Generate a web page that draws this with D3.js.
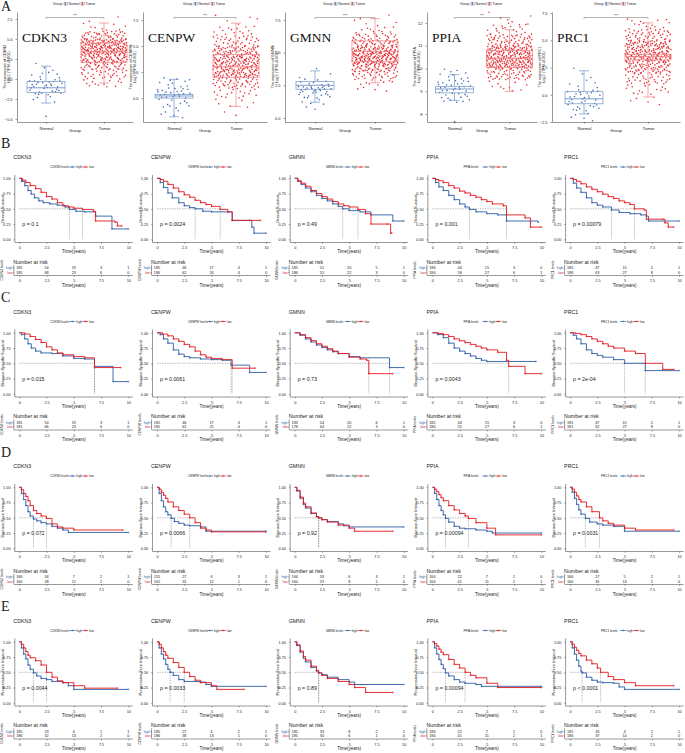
<!DOCTYPE html>
<html>
<head>
<meta charset="utf-8">
<script src="https://cdn.jsdelivr.net/npm/d3@7"></script>
<style>
body { margin: 0; background: #fff; }
svg { display: block; }
text { font-family: "Liberation Sans", Arial, sans-serif; fill: #222; }
</style>
</head>
<body>
<script>
// ---------- data ----------
const genes = ["CDKN3", "CENPW", "GMNN", "PPIA", "PRC1"];
const groups = ["Normal", "Tumor"];

// panel A: expression boxplots
const boxDomains = [[-5.375, 8.375], [-2.3, 8.27], [-0.31, 8.11], [7.65, 12.48], [-2.5, 7.6]];
const boxTicks = [[-5, -2.5, 0, 2.5, 5, 7.5], [0, 2.5, 5, 7.5], [0, 2.5, 5, 7.5], [8, 9, 10, 11, 12], [-2.5, 0, 2.5, 5, 7.5]];
const boxTickFormat = [".1f", ".1f", ".1f", "d", ".1f"];
// [whisker low, q1, median, q3, whisker high]
const normalStats = [[-3.0, -1.7, -1.1, -0.3, 1.6], [-1.8, 0.0, 0.2, 0.35, 1.8], [1.2, 2.2, 2.5, 2.8, 3.6], [8.6, 8.93, 9.1, 9.2, 9.73], [-1.76, -0.83, -0.37, 0.28, 2.2]];
const tumorStats = [[-0.5, 2.1, 3.4, 4.5, 7.0], [-0.8, 2.0, 3.0, 4.2, 7.2], [2.7, 4.3, 5.1, 5.9, 7.6], [9.0, 10.05, 10.45, 10.8, 11.7], [-0.2, 3.2, 3.5, 3.7, 6.6]];
// histogram of the jittered points: first bin start, bin width, counts
const normalBinStart = [-5, -2, 0.5, 7.5, -2.5];
const normalBinWidth = [1, 1, 0.5, 0.5, 1];
const normalCounts = [[1, 0, 4, 14, 18, 6, 3], [5, 10, 22, 10], [2, 4, 12, 20, 8, 2, 1], [1, 0, 14, 22, 9], [5, 15, 18, 5, 3]];
const tumorBinStart = [-1, -2, 2, 9, -1];
const tumorBinWidth = [1, 1, 0.5, 0.5, 1];
const tumorCounts = [[12, 25, 40, 70, 95, 80, 40, 8, 2], [2, 6, 18, 45, 85, 90, 70, 35, 15, 5], [4, 10, 25, 45, 70, 80, 60, 40, 22, 10, 4, 2], [10, 50, 120, 110, 55, 20, 5], [5, 15, 35, 70, 100, 85, 45, 15]];

// panels B-E: Kaplan-Meier curves, [time, survival] after time 0
const osHigh = [
  [[0.2,0.95],[0.5,0.88],[0.8,0.8],[1.1,0.74],[1.4,0.68],[1.8,0.63],[2.2,0.6],[2.8,0.58],[3.5,0.56],[4.2,0.53],[4.6,0.49],[5.2,0.46],[6.0,0.45],[7.0,0.38],[8.5,0.17],[10,0.17]],
  [[0.3,0.93],[0.6,0.85],[1.0,0.76],[1.4,0.68],[2.0,0.6],[2.5,0.55],[3.0,0.52],[3.5,0.5],[4.2,0.46],[5.0,0.45],[6.5,0.45],[6.9,0.31],[8.5,0.31],[8.7,0.2],[8.9,0.1],[10,0.1]],
  [[0.3,0.95],[0.6,0.9],[1.0,0.84],[1.5,0.78],[2.0,0.72],[2.5,0.67],[3.0,0.63],[3.5,0.58],[4.0,0.54],[4.4,0.5],[5.0,0.47],[6.0,0.45],[7.0,0.4],[9.0,0.3],[10,0.3]],
  [[0.3,0.93],[0.6,0.86],[1.0,0.8],[1.5,0.72],[2.0,0.65],[2.5,0.58],[3.0,0.53],[3.4,0.49],[4.0,0.45],[5.0,0.42],[6.0,0.4],[6.8,0.3],[9.7,0.28]],
  [[0.3,0.92],[0.6,0.84],[1.0,0.77],[1.5,0.68],[2.0,0.6],[2.5,0.56],[3.0,0.53],[3.8,0.48],[4.5,0.44],[5.5,0.42],[6.5,0.4],[7.0,0.38],[7.2,0.3],[10,0.3]]
];
const osLow = [
  [[0.3,0.97],[0.6,0.93],[1.0,0.88],[1.5,0.83],[2.0,0.77],[2.5,0.7],[3.0,0.66],[3.5,0.6],[4.0,0.55],[4.5,0.53],[5.0,0.51],[5.8,0.49],[6.8,0.46],[7.0,0.3],[8.8,0.28],[9.0,0.22],[9.4,0.22]],
  [[0.3,0.98],[0.6,0.95],[1.0,0.9],[1.5,0.84],[2.0,0.78],[2.5,0.73],[3.0,0.69],[3.5,0.64],[4.0,0.6],[4.5,0.57],[5.0,0.54],[5.8,0.49],[6.5,0.45],[6.9,0.31],[9.5,0.31]],
  [[0.3,0.96],[0.6,0.92],[1.0,0.87],[1.5,0.8],[2.0,0.75],[2.5,0.7],[3.0,0.66],[3.5,0.62],[4.0,0.58],[4.5,0.55],[5.0,0.53],[5.8,0.49],[6.5,0.42],[7.0,0.25],[8.5,0.25],[8.8,0.1],[8.9,0.1]],
  [[0.3,0.98],[0.6,0.96],[1.0,0.93],[1.5,0.88],[2.0,0.84],[2.5,0.79],[3.0,0.76],[3.5,0.72],[4.0,0.69],[4.5,0.65],[5.0,0.62],[5.5,0.58],[6.5,0.55],[6.8,0.4],[8.5,0.35],[9.0,0.2],[10,0.2]],
  [[0.3,0.98],[0.6,0.95],[1.0,0.91],[1.5,0.86],[2.0,0.82],[2.5,0.78],[3.0,0.74],[3.5,0.7],[4.0,0.67],[4.5,0.63],[5.0,0.6],[5.5,0.57],[5.9,0.5],[6.8,0.48],[7.0,0.33],[8.5,0.33],[8.7,0.27],[9.0,0.2],[9.5,0.2]]
];
const dssHigh = [
  [[0.2,0.97],[0.5,0.9],[0.8,0.82],[1.1,0.75],[1.5,0.7],[2.0,0.67],[3.0,0.66],[4.0,0.62],[5.0,0.58],[6.0,0.57],[6.9,0.45],[8.6,0.2],[10,0.2]],
  [[0.3,0.97],[0.6,0.9],[1.0,0.83],[1.5,0.72],[2.0,0.65],[2.5,0.61],[3.0,0.59],[4.0,0.57],[5.0,0.56],[6.0,0.55],[6.8,0.47],[8.5,0.35],[10,0.35]],
  [[0.5,0.96],[1.0,0.9],[1.5,0.85],[2.0,0.8],[2.5,0.76],[3.0,0.72],[3.5,0.69],[4.0,0.66],[5.0,0.61],[6.0,0.59],[8.7,0.43],[10,0.43]],
  [[0.5,0.97],[1.0,0.92],[1.5,0.83],[2.0,0.75],[2.5,0.7],[3.0,0.66],[3.5,0.62],[4.0,0.58],[4.5,0.55],[5.0,0.53],[9.5,0.53]],
  [[0.3,0.96],[0.6,0.9],[1.0,0.82],[1.5,0.72],[2.0,0.66],[2.5,0.63],[3.0,0.6],[4.0,0.56],[5.0,0.5],[6.9,0.38],[10,0.38]]
];
const dssLow = [
  [[0.5,0.98],[1.0,0.94],[1.5,0.89],[2.0,0.84],[2.5,0.77],[3.0,0.72],[3.5,0.67],[4.0,0.64],[5.0,0.61],[6.0,0.59],[6.9,0.43],[9.3,0.43]],
  [[0.5,0.98],[1.0,0.95],[1.5,0.9],[2.0,0.86],[2.5,0.81],[3.0,0.77],[3.5,0.7],[4.0,0.64],[4.5,0.6],[5.0,0.58],[6.0,0.56],[6.9,0.42],[9.0,0.42]],
  [[0.5,0.97],[1.0,0.92],[1.5,0.87],[2.0,0.82],[2.5,0.78],[3.0,0.74],[3.5,0.7],[4.0,0.66],[5.0,0.6],[6.0,0.57],[6.6,0.55],[6.8,0.33],[9.0,0.33]],
  [[0.5,0.99],[1.0,0.97],[1.5,0.94],[2.0,0.9],[2.5,0.87],[3.0,0.84],[3.5,0.81],[4.0,0.78],[4.5,0.75],[5.0,0.72],[6.0,0.68],[6.8,0.55],[7.0,0.45],[8.5,0.33],[10,0.33]],
  [[0.5,0.99],[1.0,0.97],[1.5,0.94],[2.0,0.9],[2.5,0.86],[3.0,0.82],[3.5,0.78],[4.0,0.75],[5.0,0.7],[6.0,0.66],[6.9,0.5],[8.5,0.4],[9.5,0.4]]
];
const dfiHigh = [
  [[0.2,0.9],[0.4,0.8],[0.6,0.7],[0.8,0.6],[1.0,0.53],[1.3,0.48],[1.6,0.45],[2.0,0.42],[2.5,0.4],[3.0,0.36],[3.5,0.33],[4.0,0.3],[4.5,0.26],[10,0.26]],
  [[0.2,0.9],[0.4,0.78],[0.6,0.68],[0.8,0.6],[1.0,0.55],[1.3,0.49],[1.6,0.44],[2.0,0.41],[2.5,0.38],[3.0,0.37],[4.0,0.35],[4.5,0.28],[10,0.28]],
  [[0.2,0.94],[0.5,0.82],[0.8,0.72],[1.0,0.66],[1.5,0.57],[2.0,0.52],[2.2,0.5],[2.5,0.47],[3.0,0.44],[4.0,0.4],[4.5,0.37],[5.0,0.35],[10,0.35]],
  [[0.2,0.9],[0.4,0.8],[0.6,0.7],[0.8,0.62],[1.0,0.55],[1.2,0.49],[1.5,0.43],[2.0,0.36],[2.5,0.33],[3.0,0.32],[4.0,0.3],[5.0,0.28],[5.5,0.25],[10,0.25]],
  [[0.2,0.92],[0.4,0.82],[0.6,0.72],[0.8,0.63],[1.0,0.56],[1.4,0.49],[1.8,0.43],[2.5,0.4],[3.0,0.38],[4.0,0.36],[5.0,0.28],[10,0.28]]
];
const dfiLow = [
  [[0.2,0.96],[0.4,0.9],[0.6,0.85],[0.8,0.78],[1.0,0.7],[1.3,0.62],[1.6,0.57],[2.0,0.53],[2.5,0.49],[3.0,0.4],[3.5,0.35],[4.0,0.33],[5.0,0.3],[9.5,0.3]],
  [[0.2,0.97],[0.4,0.92],[0.6,0.87],[0.8,0.82],[1.0,0.76],[1.5,0.68],[2.0,0.62],[2.5,0.56],[3.0,0.5],[3.5,0.42],[4.0,0.33],[4.5,0.3],[5.0,0.27],[10,0.27]],
  [[0.2,0.95],[0.5,0.84],[0.8,0.74],[1.0,0.68],[1.5,0.58],[2.0,0.52],[2.2,0.5],[2.5,0.47],[3.0,0.43],[4.0,0.38],[5.0,0.33],[5.5,0.28],[9.0,0.28]],
  [[0.2,0.97],[0.4,0.93],[0.6,0.88],[0.8,0.83],[1.0,0.78],[1.5,0.7],[2.0,0.63],[2.5,0.57],[3.0,0.53],[3.3,0.49],[4.0,0.42],[5.0,0.33],[5.8,0.22],[10,0.22]],
  [[0.2,0.97],[0.4,0.92],[0.6,0.86],[0.8,0.8],[1.0,0.76],[1.5,0.68],[2.0,0.6],[2.7,0.5],[3.0,0.45],[3.5,0.41],[4.0,0.38],[5.0,0.33],[6.0,0.3],[9.5,0.3]]
];
const pfiHigh = [
  [[0.2,0.9],[0.4,0.8],[0.6,0.72],[0.8,0.62],[1.0,0.55],[1.3,0.49],[1.6,0.44],[2.0,0.4],[2.5,0.38],[3.0,0.35],[4.0,0.33],[4.5,0.28],[5.0,0.22],[10,0.22]],
  [[0.2,0.9],[0.4,0.8],[0.6,0.72],[0.8,0.63],[1.0,0.55],[1.2,0.5],[1.5,0.45],[2.0,0.38],[2.5,0.35],[4.0,0.34],[4.5,0.3],[5.0,0.27],[10,0.27]],
  [[0.2,0.94],[0.5,0.83],[0.8,0.73],[1.0,0.67],[1.5,0.58],[2.0,0.52],[2.2,0.49],[2.5,0.46],[3.0,0.42],[4.0,0.38],[5.0,0.34],[5.5,0.3],[10,0.3]],
  [[0.2,0.9],[0.4,0.8],[0.6,0.71],[0.8,0.63],[1.0,0.56],[1.2,0.49],[1.5,0.44],[2.0,0.38],[2.5,0.34],[3.0,0.32],[4.0,0.3],[4.5,0.27],[10,0.27]],
  [[0.2,0.9],[0.4,0.8],[0.6,0.7],[0.8,0.6],[1.0,0.52],[1.1,0.49],[1.5,0.42],[2.0,0.37],[2.5,0.34],[3.0,0.33],[4.0,0.32],[4.5,0.26],[5.0,0.22],[10,0.22]]
];
const pfiLow = [
  [[0.2,0.96],[0.4,0.9],[0.6,0.84],[0.8,0.78],[1.0,0.74],[1.5,0.69],[2.0,0.62],[2.5,0.5],[3.0,0.42],[3.5,0.36],[4.0,0.33],[5.0,0.28],[6.0,0.24],[9.0,0.24]],
  [[0.2,0.96],[0.4,0.9],[0.6,0.84],[0.8,0.78],[1.0,0.73],[1.5,0.66],[2.0,0.58],[2.5,0.5],[3.0,0.43],[3.5,0.37],[4.0,0.33],[5.0,0.28],[5.5,0.22],[8.0,0.22]],
  [[0.2,0.95],[0.5,0.85],[0.8,0.76],[1.0,0.7],[1.5,0.6],[2.0,0.53],[2.2,0.49],[2.5,0.45],[3.0,0.4],[4.0,0.35],[5.0,0.3],[5.5,0.25],[6.5,0.17],[9.0,0.17]],
  [[0.2,0.97],[0.4,0.93],[0.6,0.88],[0.8,0.83],[1.0,0.79],[1.5,0.71],[2.0,0.63],[2.5,0.57],[3.0,0.5],[3.5,0.45],[4.0,0.41],[5.0,0.32],[6.0,0.25],[10,0.25]],
  [[0.2,0.96],[0.4,0.91],[0.6,0.86],[0.8,0.81],[1.0,0.77],[1.5,0.7],[2.0,0.64],[2.5,0.57],[2.8,0.5],[3.5,0.43],[4.0,0.38],[5.0,0.33],[6.0,0.28],[9.5,0.28]]
];

// number at risk at 0, 2.5, 5, 7.5, 10 years
const riskTimes = [0, 2.5, 5, 7.5, 10];
const osRiskHigh = [[185,54,19,3,1],[185,46,17,4,1],[185,51,20,5,1],[186,44,15,3,0],[185,47,15,2,1]];
const osRiskLow = [[185,68,23,6,0],[186,62,26,4,0],[186,55,22,3,0],[184,58,27,6,1],[186,63,27,8,0]];
const dssRiskHigh = [[181,54,19,3,1],[181,46,17,4,1],[183,54,20,6,1],[182,44,15,3,0],[181,47,15,2,1]];
const dssRiskLow = [[181,66,23,6,0],[181,61,25,4,0],[178,64,22,3,0],[180,55,27,6,1],[181,62,27,8,0]];
const dfiRiskHigh = [[166,34,7,2,1],[155,27,6,3,1],[166,33,6,3,1],[160,22,7,1,0],[166,27,5,2,1]];
const dfiRiskLow = [[160,28,11,2,0],[161,35,12,1,0],[160,29,8,1,0],[164,41,11,2,1],[160,35,13,2,0]];
const pfiRiskHigh = [[185,23,6,1,1],[185,27,6,2,1],[185,33,8,2,1],[186,22,7,1,0],[185,26,4,1,1]];
const pfiRiskLow = [[186,32,13,2,0],[186,38,13,1,0],[185,30,6,1,0],[184,41,11,2,1],[186,37,14,2,0]];

const osP = ["p = 0.1", "p = 0.0024", "p = 0.49", "p = 0.001", "p = 0.00079"];
const dssP = ["p = 0.015", "p = 0.0061", "p = 0.73", "p = 0.0043", "p = 2e-04"];
const dfiP = ["p = 0.072", "p = 0.0066", "p = 0.92", "p = 0.00094", "p = 0.0031"];
const pfiP = ["p = 0.0044", "p = 0.0033", "p = 0.89", "p = 0.00094", "p < 0.0001"];

const kmTitles = ["Overall Survival", "Disease-Specific Survival", "Disease-Free Interval", "Progression-Free Interval"];
const kmLetters = ["B", "C", "D", "E"];
const kmTimeTicks = [0, 2.5, 5, 7.5, 10];
const kmSurvTicks = [0, 0.25, 0.5, 0.75, 1];

// ---------- drawing ----------
const blue = "#2D5EA6", red = "#E3191F";
const svg = d3.select("body").append("svg").attr("width", 685).attr("height", 753);

function styleAxis(g, fs) {
  g.selectAll("path, line").attr("stroke", "#333").attr("stroke-width", 0.5);
  g.selectAll("text").attr("font-size", fs).attr("fill", "#333");
}

// ---- A: boxplots ----
const boxAxisX = [17, 143, 285, 427, 552];
const boxPlotW = [116, 124, 120, 110, 128];

svg.append("text").attr("x", 1).attr("y", 11).attr("font-size", 14)
  .style("font-family", "'Liberation Serif', 'Times New Roman', serif").text("A");

// points of a histogram, spread inside each bin with a Halton (2,3) sequence
function halton(n, b) {
  let f = 1, r = 0;
  while (n > 0) { f /= b; r += f * (n % b); n = Math.floor(n / b); }
  return r;
}
function binPoints(start, width, counts) {
  const out = [];
  let n = 1;
  counts.forEach((c, j) => {
    for (let k = 0; k < c; k++, n++) {
      out.push({ v: start + width * (j + halton(n, 3)), u: halton(n, 2) });
    }
  });
  return out;
}

genes.forEach((gene, i) => {
  const g = svg.append("g").attr("transform", `translate(${boxAxisX[i]},0)`);
  const w = boxPlotW[i];
  const y = d3.scaleLinear().domain(boxDomains[i]).range([122, 12]);
  const x = d3.scalePoint().domain(groups).range([0, w]).padding(0.5);

  const ya = g.append("g").call(d3.axisLeft(y).tickValues(boxTicks[i]).tickSize(1.5).tickSizeOuter(0)
    .tickFormat(d3.format(boxTickFormat[i])));
  styleAxis(ya, 4);
  const xa = g.append("g").attr("transform", "translate(0,122)")
    .call(d3.axisBottom(x).tickSize(1.5).tickSizeOuter(0));
  styleAxis(xa, 4.3);

  g.append("text").attr("x", w / 2).attr("y", 131.5).attr("text-anchor", "middle")
    .attr("font-size", 4.3).text("Group");

  const yt = g.append("text").attr("transform", `translate(-11,67) rotate(-90)`)
    .attr("text-anchor", "middle").attr("font-size", 3.8);
  yt.append("tspan").attr("x", 0).attr("dy", 0).text(`The expression of ${gene}`);
  yt.append("tspan").attr("x", 0).attr("dy", 4.2).text("Log2 (TPM+0.001)");

  // legend
  const lg = g.append("g").attr("transform", `translate(${w / 2 - 22},4)`);
  lg.append("text").attr("x", 0).attr("y", 1.2).attr("font-size", 3.4).text("Group");
  [["Normal", blue], ["Tumor", red]].forEach(([lab, col], k) => {
    const ox = 11 + k * 17;
    lg.append("rect").attr("x", ox).attr("y", -1.5).attr("width", 3.2).attr("height", 3.2)
      .attr("fill", "none").attr("stroke", col).attr("stroke-width", 0.3);
    lg.append("text").attr("x", ox + 0.6).attr("y", 1.1).attr("font-size", 2.6).attr("fill", col).text("A");
    lg.append("text").attr("x", ox + 4.5).attr("y", 1.2).attr("font-size", 3.4).text(lab);
  });

  // significance bracket
  const bx0 = x("Normal"), bx1 = x("Tumor");
  g.append("path").attr("d", `M${bx0},19V17.5H${bx1}V19`).attr("fill", "none")
    .attr("stroke", "#444").attr("stroke-width", 0.4);
  g.append("text").attr("x", (bx0 + bx1) / 2).attr("y", 16.5).attr("text-anchor", "middle")
    .attr("font-size", 3.6).text("***");

  // jittered points
  const sets = [
    { grp: "Normal", col: blue, jit: 17, pts: binPoints(normalBinStart[i], normalBinWidth[i], normalCounts[i]) },
    { grp: "Tumor", col: red, jit: 23, pts: binPoints(tumorBinStart[i], tumorBinWidth[i], tumorCounts[i]) }
  ];
  sets.forEach(s => {
    g.append("g").selectAll("circle").data(s.pts).join("circle")
      .attr("cx", d => x(s.grp) + (d.u * 2 - 1) * s.jit)
      .attr("cy", d => y(d.v))
      .attr("r", 0.8)
      .attr("fill", s.col)
      .attr("fill-opacity", 0.9);
  });

  // boxes
  [["Normal", normalStats[i], "#6F93C8", 38], ["Tumor", tumorStats[i], "#F07F82", 46]].forEach(([grp, st, col, bw]) => {
    const cx = x(grp);
    const bg = g.append("g").attr("stroke", col).attr("stroke-width", 0.7).attr("fill", "none");
    bg.append("line").attr("x1", cx).attr("x2", cx).attr("y1", y(st[0])).attr("y2", y(st[1]));
    bg.append("line").attr("x1", cx).attr("x2", cx).attr("y1", y(st[3])).attr("y2", y(st[4]));
    bg.append("line").attr("x1", cx - 5).attr("x2", cx + 5).attr("y1", y(st[0])).attr("y2", y(st[0]));
    bg.append("line").attr("x1", cx - 5).attr("x2", cx + 5).attr("y1", y(st[4])).attr("y2", y(st[4]));
    bg.append("rect").attr("x", cx - bw / 2).attr("width", bw)
      .attr("y", y(st[3])).attr("height", Math.max(0.5, y(st[1]) - y(st[3])));
    bg.append("line").attr("x1", cx - bw / 2).attr("x2", cx + bw / 2)
      .attr("y1", y(st[2])).attr("y2", y(st[2])).attr("stroke-width", 0.9);
  });

  g.append("text").attr("x", 5).attr("y", 42).attr("font-size", 13.5)
    .style("font-family", "'Liberation Serif', 'Times New Roman', serif").style("fill", "#111").text(gene);
});

// ---- B-E: Kaplan-Meier panels ----
const kmHigh = [osHigh, dssHigh, dfiHigh, pfiHigh];
const kmLow = [osLow, dssLow, dfiLow, pfiLow];
const kmRiskHigh = [osRiskHigh, dssRiskHigh, dfiRiskHigh, pfiRiskHigh];
const kmRiskLow = [osRiskLow, dssRiskLow, dfiRiskLow, pfiRiskLow];
const kmP = [osP, dssP, dfiP, pfiP];

const x = d3.scaleLinear().domain([0, 10]).range([0, 109]);
const y = d3.scaleLinear().domain([0, 1]).range([104.3, 43.3]);
const line = d3.line().x(d => x(d[0])).y(d => y(d[1])).curve(d3.curveStepAfter);

kmTitles.forEach((endpoint, r) => {
  const rowTop = 135 + 154.5 * r;
  svg.append("text").attr("x", 1).attr("y", rowTop + 12.5).attr("font-size", 14)
    .style("font-family", "'Liberation Serif', 'Times New Roman', serif").text(kmLetters[r]);

  genes.forEach((gene, i) => {
    const g = svg.append("g").attr("transform", `translate(${19.3 + 137.7 * i},${rowTop})`);

    g.append("text").attr("x", -6).attr("y", 24).attr("font-size", 5.3).text(gene);

    // legend
    const lg = g.append("g").attr("transform", "translate(31,32)");
    lg.append("text").attr("x", 0).attr("y", 1.1).attr("font-size", 3).text(`${gene} levels`);
    [["high", blue], ["low", red]].forEach(([lab, col], k) => {
      const ox = 19 + k * 13;
      lg.append("line").attr("x1", ox).attr("x2", ox + 6).attr("stroke", col).attr("stroke-width", 0.7);
      lg.append("path").attr("d", `M${ox + 3},-1.2V1.2M${ox + 1.8},0H${ox + 4.2}`).attr("stroke", col).attr("stroke-width", 0.4);
      lg.append("text").attr("x", ox + 7).attr("y", 1.1).attr("font-size", 3).text(lab);
    });

    // axes
    const ya = g.append("g").attr("transform", "translate(-4.5,0)")
      .call(d3.axisLeft(y).tickValues(kmSurvTicks).tickFormat(d3.format(".2f")).tickSize(1.3).tickSizeOuter(0));
    ya.select(".domain").attr("d", "M0,40V107.5");
    styleAxis(ya, 3.8);
    const xa = g.append("g").attr("transform", "translate(0,107.5)")
      .call(d3.axisBottom(x).tickValues(kmTimeTicks).tickFormat(d3.format("~g")).tickSize(1.3).tickSizeOuter(0));
    xa.select(".domain").attr("d", "M-4.5,0H113.5");
    styleAxis(xa, 3.8);
    g.append("text").attr("x", 54.5).attr("y", 118).attr("text-anchor", "middle").attr("font-size", 4.5).text("Time(years)");
    g.append("text").attr("transform", "translate(-15.5,74) rotate(-90)").attr("text-anchor", "middle")
      .attr("font-size", 4.1).text(endpoint);

    // median lines
    const curves = [[kmHigh[r][i], blue], [kmLow[r][i], red]];
    const meds = curves.map(([pts]) => { const p = pts.find(d => d[1] <= 0.5); return p ? p[0] : null; })
      .filter(m => m !== null);
    const mg = g.append("g").attr("stroke", "#555").attr("stroke-width", 0.4).attr("stroke-dasharray", "1.5,1");
    if (meds.length) {
      mg.append("line").attr("x1", x(0)).attr("x2", x(d3.max(meds))).attr("y1", y(0.5)).attr("y2", y(0.5));
      meds.forEach(m => mg.append("line").attr("x1", x(m)).attr("x2", x(m)).attr("y1", y(0.5)).attr("y2", y(0)));
    }

    // curves and censor marks
    curves.forEach(([pts, col]) => {
      const data = [[0, 1]].concat(pts);
      g.append("path").datum(data).attr("d", line).attr("fill", "none")
        .attr("stroke", col).attr("stroke-width", 0.9);
      g.append("g").selectAll("path").data(pts).join("path")
        .attr("d", d => `M${x(d[0]) - 1},${y(d[1])}H${x(d[0]) + 1}M${x(d[0])},${y(d[1]) - 1}V${y(d[1]) + 1}`)
        .attr("stroke", col).attr("stroke-width", 0.45);
    });

    g.append("text").attr("x", 3).attr("y", 91).attr("font-size", 5.3).text(kmP[r][i]);

    // risk table
    g.append("text").attr("x", -6).attr("y", 128.5).attr("font-size", 5.3).text("Number at risk");
    g.append("line").attr("x1", -5.5).attr("x2", -5.5).attr("y1", 130).attr("y2", 140)
      .attr("stroke", "#333").attr("stroke-width", 0.5);
    [[kmRiskHigh[r][i], "high", blue, 133], [kmRiskLow[r][i], "low", red, 137.5]].forEach(([vals, lab, col, yy]) => {
      g.append("text").attr("x", -7).attr("y", yy).attr("dy", "0.35em").attr("text-anchor", "end")
        .attr("font-size", 3.3).style("fill", col).text(lab);
      g.append("line").attr("x1", -6.5).attr("x2", -5.5).attr("y1", yy).attr("y2", yy).attr("stroke", "#333").attr("stroke-width", 0.4);
      g.append("g").selectAll("text").data(vals).join("text")
        .attr("x", (d, k) => x(riskTimes[k])).attr("y", yy).attr("dy", "0.35em")
        .attr("text-anchor", "middle").attr("font-size", 3.8).text(d => d);
    });
    const ta = g.append("g").attr("transform", "translate(0,140.5)")
      .call(d3.axisBottom(x).tickValues(kmTimeTicks).tickFormat(d3.format("~g")).tickSize(1.3).tickSizeOuter(0));
    ta.select(".domain").attr("d", "M-5.5,0H113.5");
    styleAxis(ta, 3.8);
    g.append("text").attr("x", 54.5).attr("y", 151.5).attr("text-anchor", "middle").attr("font-size", 4.5).text("Time(years)");
    g.append("text").attr("transform", "translate(-16.5,135) rotate(-90)").attr("text-anchor", "middle")
      .attr("font-size", 3.4).text(`${gene} levels`);
  });
});
</script>
</body>
</html>
